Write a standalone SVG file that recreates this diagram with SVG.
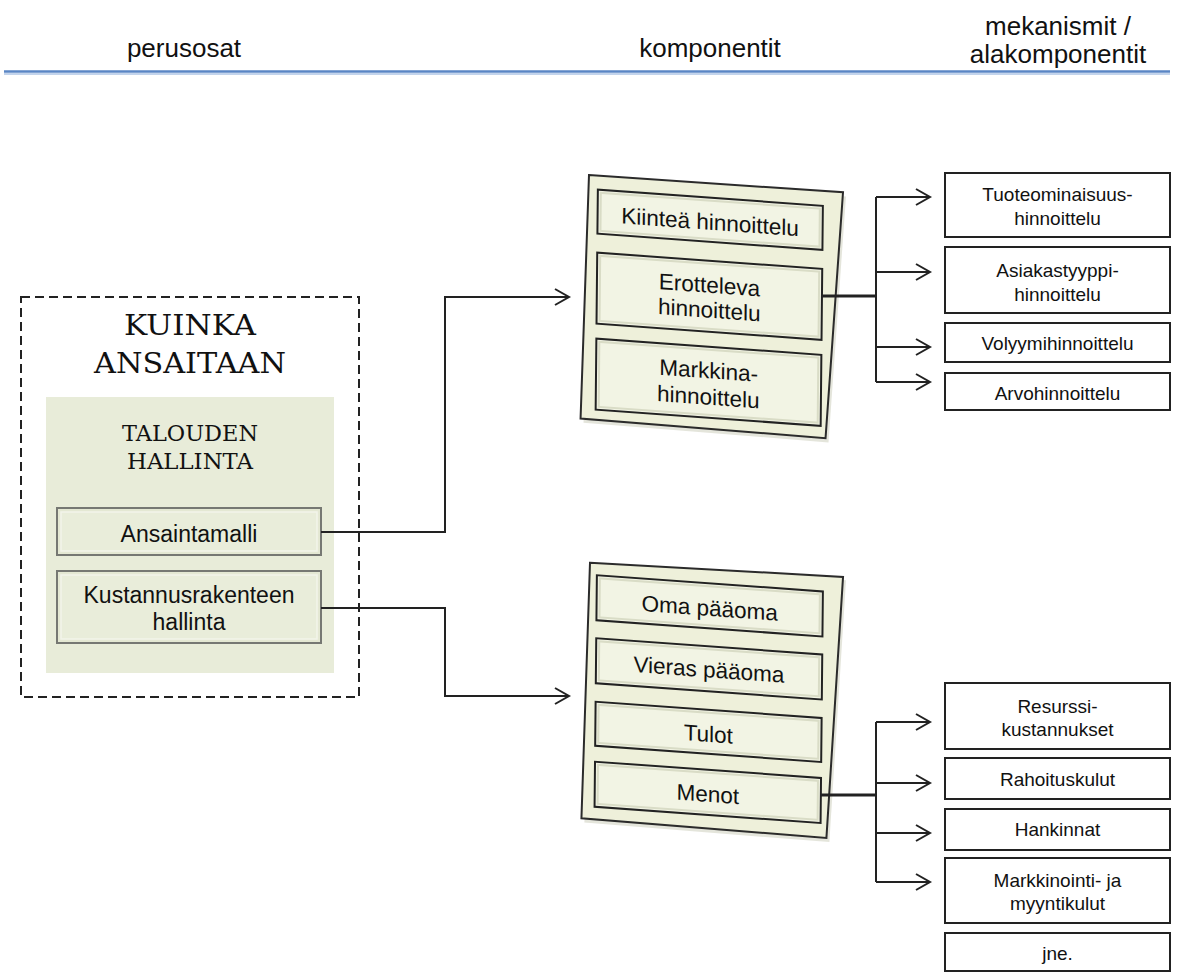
<svg xmlns="http://www.w3.org/2000/svg" width="1177" height="972" viewBox="0 0 1177 972">
<defs>
<style>
.hdr{font-family:"Liberation Sans",Arial,sans-serif;font-size:26px;fill:#111;text-anchor:middle}
.sans{font-family:"Liberation Sans",Arial,sans-serif;fill:#111;text-anchor:middle}
.serif{font-family:"DejaVu Serif","Liberation Serif",serif;fill:#111;text-anchor:middle}
.lb{font-size:23px}
.pb{font-size:22.5px}
.rb{font-size:19px}
.conn{fill:none;stroke:#222;stroke-width:2}
.stub{fill:none;stroke:#222;stroke-width:3}
.rbox{fill:#fff;stroke:#222;stroke-width:2}
.lbox{fill:#e4e8d3;stroke:#767873;stroke-width:2}
.lboxin{fill:#e9edda;stroke:#f2f4ea;stroke-width:1.5}
.panel{fill:#eef0da;stroke:#2b2b2b;stroke-width:2}
.ibox{fill:#f2f4e4;stroke:#222;stroke-width:2}
.iboxin{fill:none;stroke:#d9dcc6;stroke-width:2}
</style>
<marker id="arr" markerUnits="userSpaceOnUse" markerWidth="18" markerHeight="20" refX="15" refY="9" orient="auto" viewBox="0 0 18 20">
<path d="M1,1 L15,9 L1,17" fill="none" stroke="#222" stroke-width="2"/>
</marker>
</defs>
<rect width="1177" height="972" fill="#fff"/>

<g id="header">
<text class="hdr" x="184" y="57">perusosat</text>
<text class="hdr" x="710" y="57">komponentit</text>
<text class="hdr" x="1058" y="35">mekanismit /</text>
<text class="hdr" x="1058" y="63">alakomponentit</text>
<line x1="4" y1="71.5" x2="1170" y2="71.5" stroke="#5a86c5" stroke-width="2.5"/>
<line x1="4" y1="74" x2="1170" y2="74" stroke="#c3d4ec" stroke-width="2"/>
</g>

<g id="kuinka-ansaitaan">
<rect x="21" y="297" width="338" height="400" fill="none" stroke="#222" stroke-width="2" stroke-dasharray="9 5"/>
<text class="serif" x="190" y="335" font-size="27" textLength="132" lengthAdjust="spacingAndGlyphs">KUINKA</text>
<text class="serif" x="190" y="373" font-size="27" textLength="192" lengthAdjust="spacingAndGlyphs">ANSAITAAN</text>
</g>

<g id="talouden-hallinta">
<rect x="46" y="397" width="288" height="276" fill="#e8ecd9"/>
<text class="serif" x="190" y="441" font-size="22" textLength="136" lengthAdjust="spacingAndGlyphs">TALOUDEN</text>
<text class="serif" x="190" y="469" font-size="22" textLength="126" lengthAdjust="spacingAndGlyphs">HALLINTA</text>
</g>

<g id="ansaintamalli">
<rect class="lbox" x="57" y="508" width="264" height="47"/>
<rect class="lboxin" x="61" y="512" width="256" height="39"/>
<text class="sans lb" x="189" y="542">Ansaintamalli</text>
</g>

<g id="kustannusrakenteen-hallinta">
<rect class="lbox" x="57" y="571" width="264" height="72"/>
<rect class="lboxin" x="61" y="575" width="256" height="64"/>
<text class="sans lb" x="189" y="603">Kustannusrakenteen</text>
<text class="sans lb" x="189" y="630">hallinta</text>
</g>

<g id="hinnoittelu-panel" transform="matrix(1 0.072 -0.01 1 589 175)">
<polygon points="3,4 257,3 242,250 -3,248" fill="#c9ccb8" opacity="0.5"/>
<polygon class="panel" points="0,0 254,-1 239,246 -6,244"/>
<rect class="ibox" x="9" y="14" width="225" height="44"/>
<rect class="iboxin" x="12" y="17" width="219" height="38"/>
<text class="sans pb" x="121.5" y="46">Kiinteä hinnoittelu</text>
<rect class="ibox" x="9" y="77" width="225" height="71"/>
<rect class="iboxin" x="12" y="80" width="219" height="65"/>
<text class="sans pb" x="121.5" y="109">Erotteleva</text>
<text class="sans pb" x="121.5" y="134">hinnoittelu</text>
<rect class="ibox" x="9" y="163" width="225" height="71"/>
<rect class="iboxin" x="12" y="166" width="219" height="65"/>
<text class="sans pb" x="121.5" y="194.5">Markkina-</text>
<text class="sans pb" x="121.5" y="221">hinnoittelu</text>
</g>

<g id="paaoma-panel" transform="matrix(1 0.072 -0.01 1 590 562.7)">
<polygon points="3,0 256,-1 242,262 -3,260" fill="#c9ccb8" opacity="0.5"/>
<polygon class="panel" points="0,0 253,-4 239,258 -6,256"/>
<rect class="ibox" x="7" y="12" width="226" height="45"/>
<rect class="iboxin" x="10" y="15" width="220" height="39"/>
<text class="sans pb" x="120" y="44.5">Oma pääoma</text>
<rect class="ibox" x="7" y="75" width="226" height="45"/>
<rect class="iboxin" x="10" y="78" width="220" height="39"/>
<text class="sans pb" x="120" y="106">Vieras pääoma</text>
<rect class="ibox" x="7" y="138.5" width="226" height="44"/>
<rect class="iboxin" x="10" y="141.5" width="220" height="38"/>
<text class="sans pb" x="120" y="170.5">Tulot</text>
<rect class="ibox" x="7" y="198.5" width="226" height="45"/>
<rect class="iboxin" x="10" y="201.5" width="220" height="39"/>
<text class="sans pb" x="120" y="230.5">Menot</text>
</g>

<g id="tuoteominaisuushinnoittelu">
<rect class="rbox" x="945" y="173" width="225" height="64"/>
<text class="sans rb" x="1057.5" y="201">Tuoteominaisuus-</text>
<text class="sans rb" x="1057.5" y="225">hinnoittelu</text>
</g>
<g id="asiakastyyppihinnoittelu">
<rect class="rbox" x="945" y="247" width="225" height="66"/>
<text class="sans rb" x="1057.5" y="277">Asiakastyyppi-</text>
<text class="sans rb" x="1057.5" y="301">hinnoittelu</text>
</g>
<g id="volyymihinnoittelu">
<rect class="rbox" x="945" y="323" width="225" height="39"/>
<text class="sans rb" x="1057.5" y="350">Volyymihinnoittelu</text>
</g>
<g id="arvohinnoittelu">
<rect class="rbox" x="945" y="373" width="225" height="37"/>
<text class="sans rb" x="1057.5" y="400">Arvohinnoittelu</text>
</g>

<g id="resurssikustannukset">
<rect class="rbox" x="945" y="683" width="225" height="66"/>
<text class="sans rb" x="1057.5" y="713">Resurssi-</text>
<text class="sans rb" x="1057.5" y="736">kustannukset</text>
</g>
<g id="rahoituskulut">
<rect class="rbox" x="945" y="758" width="225" height="41"/>
<text class="sans rb" x="1057.5" y="786">Rahoituskulut</text>
</g>
<g id="hankinnat">
<rect class="rbox" x="945" y="809" width="225" height="41"/>
<text class="sans rb" x="1057.5" y="836">Hankinnat</text>
</g>
<g id="markkinointi-ja-myyntikulut">
<rect class="rbox" x="945" y="858" width="225" height="65"/>
<text class="sans rb" x="1057.5" y="887">Markkinointi- ja</text>
<text class="sans rb" x="1057.5" y="910">myyntikulut</text>
</g>
<g id="jne">
<rect class="rbox" x="945" y="933" width="225" height="38"/>
<text class="sans rb" x="1057.5" y="960">jne.</text>
</g>

<g id="connectors">
<path class="conn" d="M321,532 H445 V297 H569" marker-end="url(#arr)"/>
<path class="conn" d="M321,608 H445 V696 H569" marker-end="url(#arr)"/>
<line class="stub" x1="821" y1="296" x2="876" y2="296"/>
<path class="conn" d="M876,197 V382"/>
<path class="conn" d="M876,197 H930" marker-end="url(#arr)"/>
<path class="conn" d="M876,272 H930" marker-end="url(#arr)"/>
<path class="conn" d="M876,347 H930" marker-end="url(#arr)"/>
<path class="conn" d="M876,382 H930" marker-end="url(#arr)"/>
<line class="stub" x1="820" y1="795" x2="876" y2="795"/>
<path class="conn" d="M876,722 V882"/>
<path class="conn" d="M876,722 H930" marker-end="url(#arr)"/>
<path class="conn" d="M876,783 H930" marker-end="url(#arr)"/>
<path class="conn" d="M876,833 H930" marker-end="url(#arr)"/>
<path class="conn" d="M876,882 H930" marker-end="url(#arr)"/>
</g>
</svg>
